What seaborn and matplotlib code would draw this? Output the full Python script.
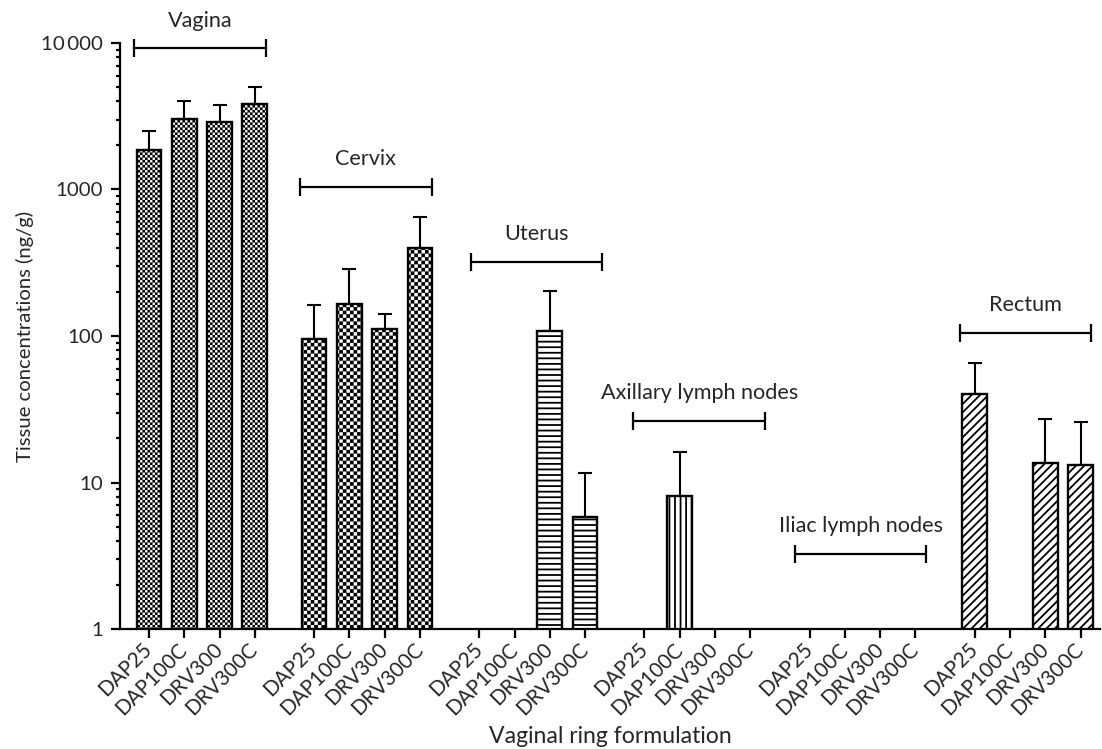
import numpy as np
import pandas as pd
import matplotlib
matplotlib.use("Agg")
import matplotlib.pyplot as plt
import matplotlib.hatch as mhatch
from matplotlib.path import Path
from matplotlib.ticker import LogLocator, FixedLocator, NullFormatter
import seaborn as sns

# ---------------- data ----------------
tissues = ["Vagina", "Cervix", "Uterus", "Axillary lymph nodes", "Iliac lymph nodes", "Rectum"]
formulations = ["DAP25", "DAP100C", "DRV300", "DRV300C"]

vagina_mean = [1860, 3040, 2890, 3820]
vagina_sd = [640, 980, 890, 1210]
cervix_mean = [96, 165, 112, 398]
cervix_sd = [66, 122, 29, 252]
uterus_mean = [None, None, 109, 5.8]
uterus_sd = [None, None, 94, 5.8]
axillary_mean = [None, 8.1, None, None]
axillary_sd = [None, 8.1, None, None]
iliac_mean = [None, None, None, None]
iliac_sd = [None, None, None, None]
rectum_mean = [40, None, 13.6, 13.1]
rectum_sd = [25, None, 13.4, 12.8]

means = [vagina_mean, cervix_mean, uterus_mean, axillary_mean, iliac_mean, rectum_mean]
sds = [vagina_sd, cervix_sd, uterus_sd, axillary_sd, iliac_sd, rectum_sd]

bracket_levels = [9200, 1045, 320, 26.4, 3.25, 105]
y_tick_values = [1, 10, 100, 1000, 10000]
y_tick_labels = ["1", "10", "100", "1000", "10\u2009000"]
hatches = ["o", "O", "---", "|||", "", "////"]

# ---------------- custom checkerboard hatch ----------------
class CheckerHatch(mhatch.HatchPatternBase):
    """'o' -> fine checkerboard, 'O' -> coarse checkerboard."""
    def __init__(self, hatch, density):
        if hatch.count("o"):
            self.cells = 40
        elif hatch.count("O"):
            self.cells = 28
        else:
            self.cells = 0
        self.num_vertices = (self.cells * self.cells // 2) * 5

    def set_vertices_and_codes(self, vertices, codes):
        n = self.cells
        c = 1.0 / n
        s = 0.0085
        k = 0
        for i in range(n):
            for j in range(n):
                if (i + j) % 2 == 0:
                    x0, y0 = i * c + s, j * c + s
                    x1, y1 = (i + 1) * c - s, (j + 1) * c - s
                    vertices[k:k + 5] = [(x0, y0), (x1, y0), (x1, y1), (x0, y1), (x0, y0)]
                    codes[k:k + 5] = [Path.MOVETO, Path.LINETO, Path.LINETO,
                                      Path.LINETO, Path.CLOSEPOLY]
                    k += 5

mhatch._hatch_types[:] = [h for h in mhatch._hatch_types
                          if h not in (mhatch.SmallCircles, mhatch.LargeCircles)] + [CheckerHatch]

# ---------------- style ----------------
sns.set_style("ticks")
FAMILY = ["Lato", "DejaVu Sans"]
plt.rcParams["font.family"] = FAMILY
plt.rcParams["hatch.linewidth"] = 1.3
plt.rcParams["hatch.color"] = "black"

GROUP_STEP = 4.68
rows = []
all_pos = []
all_lab = []
for g, tissue in enumerate(tissues):
    for i, f in enumerate(formulations):
        x = g * GROUP_STEP + i
        all_pos.append(x)
        all_lab.append(f)
        m = means[g][i]
        if m is not None:
            rows.append({"pos": x, "value": m, "sd": sds[g][i], "group": g})
df = pd.DataFrame(rows)

fig = plt.figure(figsize=(11.02, 7.49), dpi=100)
ax = fig.add_axes([120 / 1102, 120 / 749, 980 / 1102, 586 / 749])
renderer = fig.canvas.get_renderer()


def fit_size(text, target_px):
    t = fig.text(0, 0, text, fontsize=10)
    w = t.get_window_extent(renderer).width
    t.remove()
    return 10 * target_px / w


FS_BRACKET = (fit_size("Vagina", 64) + fit_size("Axillary lymph nodes", 199)) / 2
FS_XTICK = fit_size("DAP100C", 92)
FS_YTICK = fit_size("1000", 47)
FS_XLABEL = fit_size("Vaginal ring formulation", 243)
FS_YLABEL = fit_size("Tissue concentrations (ng/g)", 252)

sns.barplot(data=df, x="pos", y="value", native_scale=True,
            color="white", saturation=1, edgecolor="black", linewidth=1.7,
            width=0.7, errorbar=None, zorder=2, ax=ax)
ax.set_yscale("log", nonpositive="clip")

# hatches by group
for patch in ax.patches:
    xc = patch.get_x() + patch.get_width() / 2
    g = min(range(len(tissues)), key=lambda k: abs(xc - (k * GROUP_STEP + 1.5)))
    patch.set_hatch(hatches[g])
    patch.set_facecolor("white")
    patch.set_edgecolor("black")
    patch.set_linewidth(1.7)

# error bars (upper only)
ax.errorbar(df["pos"], df["value"], yerr=[np.zeros(len(df)), df["sd"]],
            fmt="none", ecolor="black", elinewidth=1.5, capsize=4.8, capthick=1.5,
            zorder=1)

# brackets with labels
BR_W = 3.73
br_left = [-0.42, -0.40, -0.24, -0.31, -0.42, -0.43]
for g, tissue in enumerate(tissues):
    x0 = g * GROUP_STEP + br_left[g]
    x1 = x0 + BR_W
    yb = bracket_levels[g]
    ax.plot([x0, x1], [yb, yb], color="black", lw=1.6, solid_capstyle="butt", clip_on=False)
    ax.plot([x0, x1], [yb, yb], ls="none", marker="|", ms=13, mew=1.6, color="black",
            clip_on=False)
    ax.annotate(tissue, xy=((x0 + x1) / 2, yb), xytext=(0, 15.5), textcoords="offset points",
                ha="center", va="baseline", fontsize=FS_BRACKET, annotation_clip=False)

# axes
ax.set_xlim(-0.82, 26.95)
ax.set_ylim(1, 10000)
ax.set_xticks(all_pos)
ax.set_xticklabels(all_lab, rotation=45, ha="right", va="center", rotation_mode="anchor",
                   fontsize=FS_XTICK)
ax.yaxis.set_major_locator(FixedLocator(y_tick_values))
ax.set_yticklabels(y_tick_labels, fontsize=FS_YTICK)
ax.yaxis.set_minor_locator(LogLocator(base=10, subs=np.arange(2, 10)))
ax.yaxis.set_minor_formatter(NullFormatter())
ax.tick_params(axis="y", which="major", length=6.5, width=1.6, pad=5.5, color="black")
ax.tick_params(axis="y", which="minor", length=3.2, width=1.6, color="black")
ax.tick_params(axis="x", which="major", length=6.5, width=1.6, pad=6, color="black")
ax.tick_params(axis="x", which="minor", length=0)
for sp in ["left", "bottom"]:
    ax.spines[sp].set_linewidth(1.6)
    ax.spines[sp].set_color("black")
sns.despine(ax=ax)

ax.set_xlabel("Vaginal ring formulation", fontsize=FS_XLABEL)
ax.set_ylabel("Tissue concentrations (ng/g)", fontsize=FS_YLABEL)
ax.xaxis.set_label_coords(0.5, -0.165)
ax.yaxis.set_label_coords(-0.088, 0.5)
ax.xaxis.label.set_va("top")

fig.savefig("out.png", dpi=100)
